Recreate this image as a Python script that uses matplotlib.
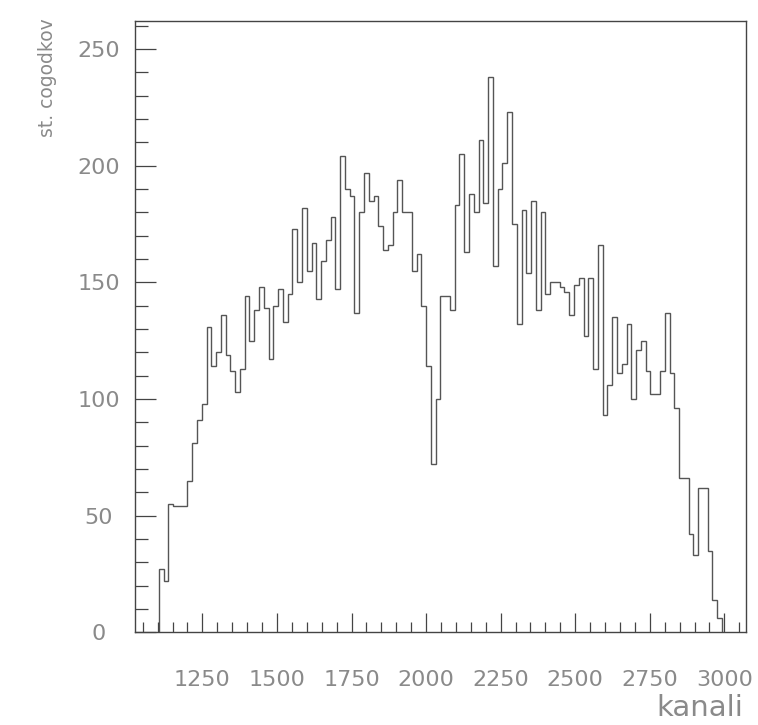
import numpy as np
import matplotlib
matplotlib.use("Agg")
import matplotlib.pyplot as plt
from matplotlib.ticker import MultipleLocator

# histogram: counts per channel bin, bins of 16 channels starting at 1104
bin_start = 1104
bin_width = 16
counts = [
    27, 22, 55, 54, 54, 54, 65, 81, 91, 98,
    131, 114, 120, 136, 119, 112, 103, 113, 144, 125,
    138, 148, 139, 117, 140, 147, 133, 145, 173, 150,
    182, 155, 167, 143, 159, 168, 178, 147, 204, 190,
    187, 137, 180, 197, 185, 187, 174, 164, 166, 180,
    194, 180, 180, 155, 162, 140, 114, 72, 100, 144,
    144, 138, 183, 205, 163, 188, 180, 211, 184, 238,
    157, 190, 201, 223, 175, 132, 181, 154, 185, 138,
    180, 145, 150, 150, 148, 146, 136, 149, 152, 127,
    152, 113, 166, 93, 106, 135, 111, 115, 132, 100,
    121, 125, 112, 102, 102, 112, 137, 111, 96, 66,
    66, 42, 33, 62, 62, 35, 14, 6,
]

edges = bin_start + bin_width * np.arange(len(counts) + 1)

text_col = "#8a8a8a"
line_col = "#555555"

fig = plt.figure(figsize=(7.58, 7.25), dpi=100)
ax = fig.add_axes([0.178, 0.128, 0.806, 0.843])

ax.stairs(counts, edges, baseline=0, color=line_col, lw=1.0)

ax.set_xlim(1024, 3072)
ax.set_ylim(0, 262)

# ticks inside, only on left and bottom
ax.xaxis.set_major_locator(MultipleLocator(250))
ax.xaxis.set_minor_locator(MultipleLocator(50))
ax.yaxis.set_major_locator(MultipleLocator(50))
ax.yaxis.set_minor_locator(MultipleLocator(10))
ax.tick_params(which="both", direction="in", top=False, right=False,
               color="#444444", labelcolor=text_col, width=0.9)
ax.tick_params(axis="x", which="major", length=14, pad=27, labelsize=16)
ax.tick_params(axis="x", which="minor", length=7)
ax.tick_params(axis="y", which="major", length=15, pad=26, labelsize=16)
ax.tick_params(axis="y", which="minor", length=9)
for lab in ax.get_yticklabels():
    lab.set_horizontalalignment("center")

for side in ax.spines.values():
    side.set_color("#444444")
    side.set_linewidth(1.0)

fig.text(0.063, 0.975, "st. cogodkov", rotation=90, ha="center", va="top",
         color=text_col, fontsize=13.5)
fig.text(0.98, 0.004, "kanali", ha="right", va="bottom",
         color=text_col, fontsize=21)

fig.savefig("out.png", dpi=100, facecolor="white")
